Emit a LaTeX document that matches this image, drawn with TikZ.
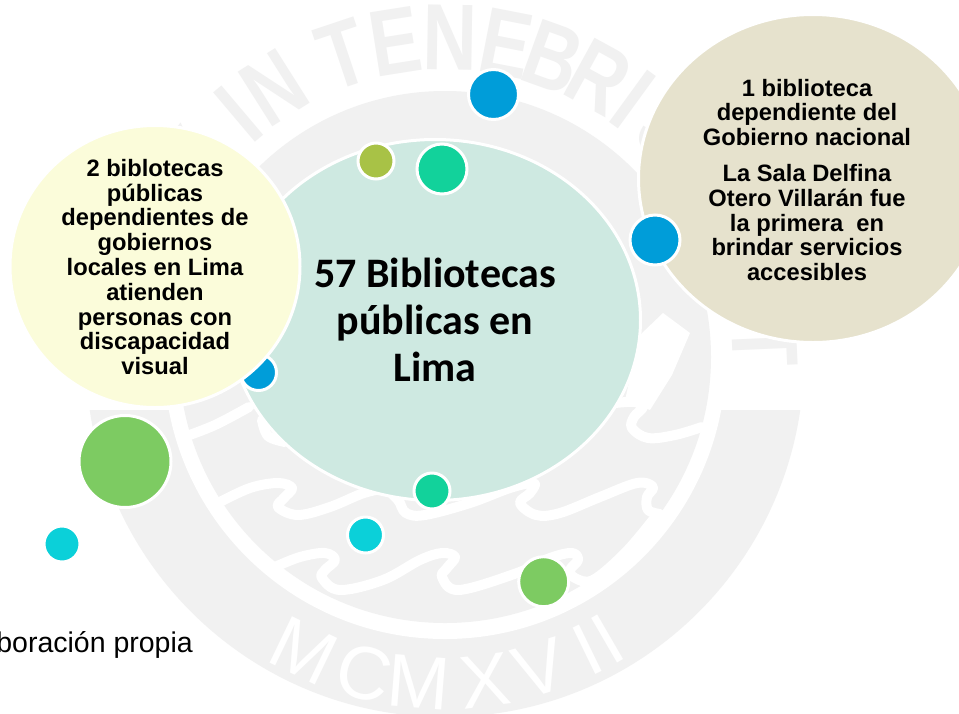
\documentclass[tikz,border=0pt]{standalone}
\usepackage{fontspec}
\usepackage{graphicx}
\setmainfont{Liberation Sans}
\newfontfamily\califont{Carlito}
\usetikzlibrary{shapes.geometric}
\definecolor{wmgray}{HTML}{F1F1F1}
\definecolor{mainfill}{HTML}{CEE9E1}
\definecolor{yellowfill}{HTML}{FBFCDA}
\definecolor{beigefill}{HTML}{E6E2CD}
\definecolor{ballblue}{HTML}{009DD9}
\definecolor{ballteal}{HTML}{12D29B}
\definecolor{ballolive}{HTML}{A8C246}
\definecolor{ballgreen}{HTML}{7DCB62}
\definecolor{ballcyan}{HTML}{0BD0D9}
\tikzset{
  blob/.style={ellipse,draw=white,line width=3pt,inner sep=0pt,outer sep=0pt,align=center},
  ball/.style={circle,draw=white,line width=3pt,inner sep=0pt,outer sep=0pt,fill=#1},
  sidetext/.style={align=center,inner sep=0pt,font=\bfseries\fontsize{23.7}{24.8}\selectfont},
  wave/.style={draw=white,line width=10pt,line cap=round,line join=round},
  wmletter/.style={inner sep=0pt,text=wmgray,font=\bfseries\fontsize{94}{94}\selectfont},
  wmband/.style={inner sep=0pt,text=white,font=\fontsize{75}{75}\selectfont}
}
\begin{document}
\begin{tikzpicture}[x=1pt,y=1pt]
\clip (0,-713) rectangle (959,0);
\useasboundingbox (0,-713) rectangle (959,0);
\fill[white] (0,-713) rectangle (959,0);
% watermark seal
\begin{scope}
  \clip (0,-410) rectangle (959,-713);
  \fill[wmgray] (445,-358) circle[radius=359];
\end{scope}
\fill[white] (445,-358) circle[radius=281];
\fill[wmgray] (445,-357) circle[radius=266];
\foreach \ch/\ang [count=\n] in {X/-52,I/-40.2,N/-32.3,T/-18.5,E/-9,N/0.9,E/11,B/19.8,R/28.7,I/36,S/45,E/75,T/87.5}
  \node[wmletter,rotate=-\ang] (wmtop\n) at ({445+320*sin(\ang)},{-358+320*cos(\ang)}) {\scalebox{.8}[1]{\ch}};
\foreach \ch/\ang [count=\n] in {M/25.7,C/14.4,M/4.6,X/-7.1,V/-17,I/-26,I/-30.1}
  \node[wmband,rotate=-\ang] (wmbot\n) at ({445-325*sin(\ang)},{-358-325*cos(\ang)}) {\ch};
\fill[white] (640,-335) -- (663,-313) -- (690,-333) -- (672,-375) -- (650,-410) -- (625,-400) -- cycle;
\draw[wave] plot[smooth,tension=0.6] coordinates {(184,-437) (215,-425) (249,-407)};
\draw[wave] plot[smooth,tension=0.6] coordinates {(262,-420) (268,-436) (285,-442)};
\draw[wave] plot[smooth,tension=0.6] coordinates {(218,-503) (250,-488) (278,-483) (292,-488) (284,-498) (278,-507) (298,-515) (330,-507) (364,-493) (385,-490) (398,-500) (406,-513) (425,-515) (470,-503) (510,-488) (534,-483) (530,-493) (520,-503) (536,-515) (560,-513) (600,-497) (637,-483) (653,-487) (647,-497) (648,-510) (660,-514)};
\draw[wave] plot[smooth,tension=0.6] coordinates {(275,-567) (300,-557) (325,-553) (335,-560) (325,-570) (322,-578) (340,-590) (383,-580) (420,-560) (442,-553) (455,-557) (447,-568) (442,-577) (459,-590) (517,-573) (550,-558) (572,-553) (578,-560) (570,-570) (575,-578) (593,-580) (625,-553) (653,-520)};
\draw[wave] plot[smooth,tension=0.6] coordinates {(615,-403) (635,-402) (643,-407) (634,-417) (632,-428) (648,-438) (675,-435) (702,-427)};
% main circles
\node[blob,fill=mainfill,minimum width=411pt,minimum height=361pt,
      text=black,font=\califont\bfseries\fontsize{42}{47}\selectfont] (mainc) at (435,-320)
  {57 Bibliotecas\\públicas en\\Lima};
\node[ball=ballblue,minimum size=36pt] (b6) at (258.5,-372.5) {};
\node[blob,fill=yellowfill,minimum width=290pt,minimum height=282pt] (leftc) at (155,-266.5) {};
\node[sidetext] (lefttext) at (155,-267)
  {2 biblotecas\\públicas\\dependientes de\\gobiernos\\locales en Lima\\atienden\\personas con\\discapacidad\\visual};
\node[blob,fill=beigefill,minimum width=349pt,minimum height=328pt] (rightc) at (813,-178.5) {};
\node[sidetext] (righttext) at (807,-180)
  {1 biblioteca\\dependiente del\\Gobierno nacional\\[11pt]La Sala Delfina\\Otero Villarán fue\\la primera\ \ en\\brindar servicios\\accesibles};
% small balls
\node[ball=ballblue,minimum size=50pt] (b1) at (493.5,-94.5) {};
\node[ball=ballolive,minimum size=36pt] (b2) at (376,-161) {};
\node[ball=ballteal,minimum size=50pt] (b3) at (442,-169) {};
\node[ball=ballblue,minimum size=50pt] (b4) at (655,-240) {};
\node[ball=ballgreen,minimum size=92pt] (b5) at (125,-461.5) {};
\node[ball=ballcyan,minimum size=36pt] (b7) at (62,-544) {};
\node[ball=ballteal,minimum size=36pt] (b8) at (432,-491) {};
\node[ball=ballcyan,minimum size=36pt] (b9) at (365.5,-535) {};
\node[ball=ballgreen,minimum size=50pt] (b10) at (543.7,-581.7) {};
\node[anchor=base east,inner sep=0pt,font=\fontsize{28.5}{32}\selectfont] (source) at (193,-652) {Elaboración propia};
\end{tikzpicture}
\end{document}
